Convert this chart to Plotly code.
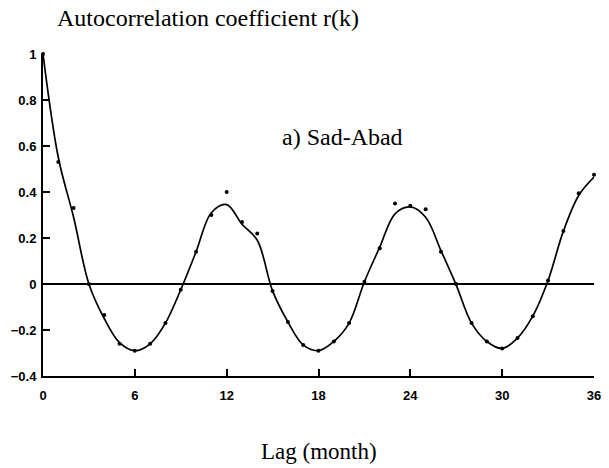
import plotly.graph_objects as go

# Data
lags = list(range(0, 37))
r_points = [1.0, 0.53, 0.33, 0.0, -0.135, -0.26, -0.29, -0.26, -0.17, -0.025,
            0.14, 0.30, 0.40, 0.27, 0.22, -0.03, -0.165, -0.265, -0.29, -0.25,
            -0.17, 0.01, 0.155, 0.35, 0.34, 0.325, 0.14, 0.0, -0.17, -0.25,
            -0.28, -0.235, -0.14, 0.015, 0.23, 0.395, 0.475]
r_curve = [1.0, 0.55, 0.29, 0.0, -0.15, -0.255, -0.29, -0.26, -0.17, -0.025,
           0.14, 0.31, 0.345, 0.26, 0.19, -0.03, -0.165, -0.265, -0.29, -0.25,
           -0.17, 0.01, 0.16, 0.305, 0.335, 0.29, 0.145, -0.005, -0.17, -0.25,
           -0.28, -0.235, -0.14, 0.015, 0.23, 0.385, 0.465]

x_ticks = [0, 6, 12, 18, 24, 30, 36]
x_ticktext = ["0", "6", "12", "18", "24", "30", "36"]
y_ticks = [-0.4, -0.2, 0, 0.2, 0.4, 0.6, 0.8, 1.0]
y_ticktext = ["\u22120.4", "\u22120.2", "0", "0.2", "0.4", "0.6", "0.8", "1"]

serif = "Liberation Serif"
tickfont = dict(family="Liberation Sans", size=13, color="black", weight="bold")

fig = go.Figure()
fig.add_trace(go.Scatter(x=lags, y=r_curve, mode="lines",
                         line=dict(color="black", width=1.7, shape="spline", smoothing=1.0),
                         showlegend=False, cliponaxis=False))
fig.add_trace(go.Scatter(x=lags, y=r_points, mode="markers",
                         marker=dict(color="black", size=4),
                         showlegend=False, cliponaxis=False))

fig.update_layout(
    width=609, height=468,
    margin=dict(l=43, r=8, t=54, b=92),
    paper_bgcolor="white", plot_bgcolor="white",
    showlegend=False,
    xaxis=dict(range=[0, 36], tickvals=x_ticks, ticktext=x_ticktext,
               showgrid=False, zeroline=False, showline=True, linecolor="black",
               linewidth=2, ticks="inside", ticklen=7, tickwidth=2, tickcolor="black",
               tickfont=tickfont, ticklabelstandoff=6),
    yaxis=dict(range=[-0.4, 1.0], tickvals=y_ticks, ticktext=y_ticktext,
               showgrid=False, zeroline=True, zerolinecolor="black", zerolinewidth=2,
               showline=True, linecolor="black", linewidth=2,
               ticks="inside", ticklen=7, tickwidth=2, tickcolor="black",
               tickfont=tickfont, ticklabelstandoff=2),
    annotations=[
        dict(text="Autocorrelation coefficient r(k)", xref="paper", yref="paper",
             x=0.0215, y=1.112, xanchor="left", yanchor="middle", showarrow=False,
             font=dict(family=serif, size=24, color="black")),
        dict(text="a) Sad-Abad", xref="x", yref="y", x=19.6, y=0.64,
             xanchor="center", yanchor="middle", showarrow=False,
             font=dict(family=serif, size=24, color="black")),
        dict(text="Lag (month)", xref="paper", yref="paper", x=0.5, y=-0.233,
             xanchor="center", yanchor="middle", showarrow=False,
             font=dict(family=serif, size=23, color="black")),
    ],
)

fig.write_html("out.html")
